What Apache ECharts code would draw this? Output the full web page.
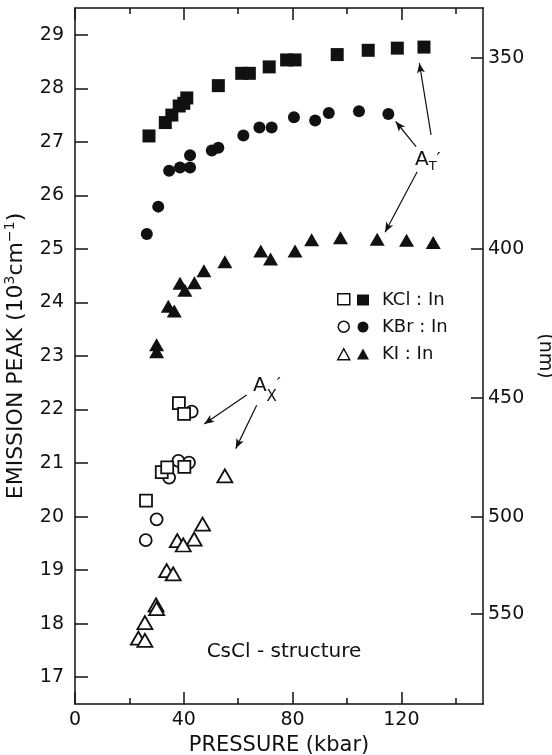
<!DOCTYPE html>
<html>
<head>
<meta charset="utf-8">
<style>
  html, body { margin: 0; padding: 0; background: #fff; }
  #chart { width: 552px; height: 755px; }
</style>
<script src="https://cdn.jsdelivr.net/npm/echarts@6/dist/echarts.min.js"></script>
</head>
<body>
<div id="chart"></div>
<script>
// pressure (kbar), emission peak (10^3 cm^-1)
var kclFilled = [[27.2,27.11],[33.2,27.36],[35.6,27.50],[38.3,27.67],[40.0,27.72],[41.1,27.82],[52.7,28.05],[61.3,28.28],[64.1,28.28],[71.4,28.40],[77.8,28.53],[80.9,28.53],[96.4,28.63],[107.8,28.71],[118.5,28.75],[128.3,28.77]];
var kbrFilled = [[26.4,25.28],[30.6,25.79],[34.6,26.46],[38.6,26.52],[42.3,26.52],[42.3,26.75],[50.3,26.84],[52.7,26.89],[61.9,27.12],[67.8,27.27],[72.3,27.27],[80.5,27.46],[88.3,27.40],[93.3,27.54],[104.4,27.57],[115.2,27.52]];
var kiFilled = [[30.0,23.21],[30.0,23.08],[34.3,23.93],[36.5,23.84],[38.6,24.36],[40.4,24.23],[43.9,24.37],[47.4,24.59],[55.1,24.76],[68.3,24.96],[71.9,24.81],[80.9,24.96],[87.0,25.17],[97.6,25.21],[111.1,25.18],[121.9,25.16],[131.7,25.12]];
var kclOpen = [[38.2,22.12],[40.1,21.92],[31.9,20.83],[33.9,20.92],[40.2,20.93],[26.1,20.30]];
var kbrOpen = [[42.9,21.96],[38.0,21.04],[41.9,21.01],[34.6,20.73],[30.0,19.95],[26.0,19.56]];
var kiOpen = [[55.1,20.76],[46.9,19.86],[43.8,19.58],[37.6,19.55],[39.8,19.47],[33.7,18.99],[36.1,18.93],[29.8,18.35],[30.0,18.28],[25.7,18.02],[23.3,17.73],[25.7,17.69]];

var xMajor = [0, 40, 80, 120];
var xMinor = [20, 60, 100, 140];
var yTicks = [17,18,19,20,21,22,23,24,25,26,27,28,29];
var nmTicks = [350, 400, 450, 500, 550];

var legendNames = ['KCl : In', 'KBr : In', 'KI : In'];

// annotation labels and arrows, in data units
var annotLabels = [
  { value: [125.0, 26.66], text: '{a|A}{s|T}{p|′}' },
  { value: [65.4, 22.45], text: '{a2|A}{s2|X}{p2|′}' },
  { value: [48.4, 17.47], text: 'CsCl - structure' }
];
var arrows = [
  [[130.9, 27.13], [126.6, 28.47]],
  [[125.4, 26.91], [117.9, 27.38]],
  [[125.8, 26.44], [114.0, 25.31]],
  [[63.1, 22.27], [47.5, 21.73]],
  [[66.8, 22.08], [59.1, 21.27]]
];

var FONT = 'DejaVu Sans';
var BLACK = '#111';

function scatter(name, data, symbol, size, open, z) {
  return {
    name: name,
    type: 'scatter',
    data: data,
    symbol: symbol,
    symbolSize: size,
    xAxisIndex: 0,
    yAxisIndex: 0,
    z: z,
    itemStyle: open
      ? { color: '#fff', borderColor: BLACK, borderWidth: 1.8, opacity: 1 }
      : { color: BLACK, opacity: 1 },
    emphasis: { disabled: true },
    animation: false
  };
}

var chart = echarts.init(document.getElementById('chart'));

var option = {
  backgroundColor: '#fff',
  animation: false,
  textStyle: { fontFamily: FONT, color: BLACK },
  grid: { left: 75, right: 69, top: 8, bottom: 51, containLabel: false, outerBoundsMode: 'none' },
  legend: [
    {
      orient: 'vertical', left: 332, top: 288, itemGap: 15,
      itemWidth: 12, itemHeight: 11,
      selectedMode: false,
      data: [
        { name: 'KCl open', icon: 'rect' },
        { name: 'KBr open', icon: 'circle' },
        { name: 'KI open', icon: 'triangle' }
      ],
      formatter: function () { return ''; },
      itemStyle: { color: '#fff', borderColor: BLACK, borderWidth: 1.5 }
    },
    {
      orient: 'vertical', left: 352, top: 285, itemGap: 7,
      itemWidth: 12, itemHeight: 11,
      selectedMode: false,
      data: [
        { name: 'KCl filled', icon: 'rect' },
        { name: 'KBr filled', icon: 'circle' },
        { name: 'KI filled', icon: 'triangle' }
      ],
      formatter: function (name) {
        return legendNames[['KCl filled', 'KBr filled', 'KI filled'].indexOf(name)];
      },
      textStyle: { fontFamily: FONT, fontSize: 18, color: BLACK, lineHeight: 20, padding: [0, 0, 0, 8] },
      itemStyle: { color: BLACK, borderWidth: 0 }
    }
  ],
  xAxis: [
    {
      type: 'value', position: 'bottom', min: 0, max: 150,
      axisLine: { show: true, onZero: false, lineStyle: { color: BLACK, width: 1.5 } },
      axisTick: { show: true, inside: true, length: 12, customValues: xMajor, lineStyle: { color: BLACK, width: 1.5 } },
      axisLabel: { customValues: xMajor, fontSize: 19, color: BLACK, margin: 7, fontFamily: FONT },
      splitLine: { show: false },
      name: 'PRESSURE (kbar)', nameLocation: 'middle', nameGap: 29,
      nameTextStyle: { fontSize: 21, color: BLACK, fontFamily: FONT }
    },
    {
      type: 'value', position: 'bottom', min: 0, max: 150,
      axisLine: { show: false },
      axisTick: { show: true, inside: true, length: 6, customValues: xMinor, lineStyle: { color: BLACK, width: 1.5 } },
      axisLabel: { show: false },
      splitLine: { show: false }
    },
    {
      type: 'value', position: 'top', min: 0, max: 150,
      axisLine: { show: true, onZero: false, lineStyle: { color: BLACK, width: 1.5 } },
      axisTick: { show: true, inside: true, length: 12, customValues: xMajor, lineStyle: { color: BLACK, width: 1.5 } },
      axisLabel: { show: false },
      splitLine: { show: false }
    },
    {
      type: 'value', position: 'top', min: 0, max: 150,
      axisLine: { show: false },
      axisTick: { show: true, inside: true, length: 6, customValues: xMinor, lineStyle: { color: BLACK, width: 1.5 } },
      axisLabel: { show: false },
      splitLine: { show: false }
    }
  ],
  yAxis: [
    {
      type: 'value', position: 'left', min: 16.5, max: 29.5,
      axisLine: { show: true, onZero: false, lineStyle: { color: BLACK, width: 1.5 } },
      axisTick: { show: true, inside: true, length: 13, customValues: yTicks, lineStyle: { color: BLACK, width: 1.5 } },
      axisLabel: { customValues: yTicks, fontSize: 19, color: BLACK, margin: 11, fontFamily: FONT },
      splitLine: { show: false },
      name: 'EMISSION PEAK (10{sup|3}cm{sup|−1})',
      nameLocation: 'middle', nameGap: 44,
      nameTextStyle: {
        fontSize: 22, color: BLACK, fontFamily: FONT, lineHeight: 26,
        rich: { sup: { fontSize: 14, verticalAlign: 'top', color: BLACK, fontFamily: FONT } }
      }
    },
    {
      type: 'value', position: 'right', min: 16.5, max: 29.5,
      axisLine: { show: true, onZero: false, lineStyle: { color: BLACK, width: 1.5 } },
      axisTick: { show: true, inside: true, length: 12, customValues: nmTicks.map(function (n) { return 1e4 / n; }), lineStyle: { color: BLACK, width: 1.5 } },
      axisLabel: {
        customValues: nmTicks.map(function (n) { return 1e4 / n; }),
        formatter: function (v) { return String(Math.round(1e4 / v)); },
        fontSize: 19, color: BLACK, margin: 5, fontFamily: FONT
      },
      splitLine: { show: false },
      name: '(nm)', nameLocation: 'middle', nameGap: 41, nameRotate: -90,
      nameTextStyle: { fontSize: 19, color: BLACK, fontFamily: FONT }
    }
  ],
  series: [
    scatter('KBr open', kbrOpen, 'circle', 12, true, 2),
    scatter('KI open', kiOpen, 'triangle', [15, 13], true, 2),
    scatter('KCl open', kclOpen, 'rect', 12, true, 3),
    scatter('KCl filled', kclFilled, 'rect', 13, false, 2),
    scatter('KBr filled', kbrFilled, 'circle', 12, false, 2),
    scatter('KI filled', kiFilled, 'triangle', [15, 13], false, 2),
    {
      name: 'annotations',
      type: 'scatter',
      symbolSize: 0,
      silent: true,
      animation: false,
      z: 5,
      data: annotLabels.map(function (d) { return { value: d.value, name: d.text }; }),
      label: {
        show: true,
        position: 'right',
        distance: 0,
        opacity: 1,
        formatter: function (p) { return p.name; },
        fontSize: 20, color: BLACK, fontFamily: FONT,
        rich: {
          a: { fontSize: 20, lineHeight: 26, color: BLACK, fontFamily: FONT },
          s: { fontSize: 13, verticalAlign: 'bottom', color: BLACK, fontFamily: FONT },
          p: { fontSize: 18, color: BLACK, fontFamily: FONT },
          a2: { fontSize: 20, lineHeight: 38, color: BLACK, fontFamily: FONT },
          s2: { fontSize: 15, verticalAlign: 'bottom', color: BLACK, fontFamily: FONT },
          p2: { fontSize: 18, color: BLACK, fontFamily: FONT }
        }
      },
      markLine: {
        silent: true,
        animation: false,
        symbol: ['none', 'arrow'],
        symbolSize: [6, 10],
        label: { show: false },
        lineStyle: { color: BLACK, width: 1.2, type: 'solid', opacity: 1 },
        data: arrows.map(function (a) { return [{ coord: a[0] }, { coord: a[1] }]; })
      }
    }
  ]
};

chart.setOption(option);
</script>
</body>
</html>
